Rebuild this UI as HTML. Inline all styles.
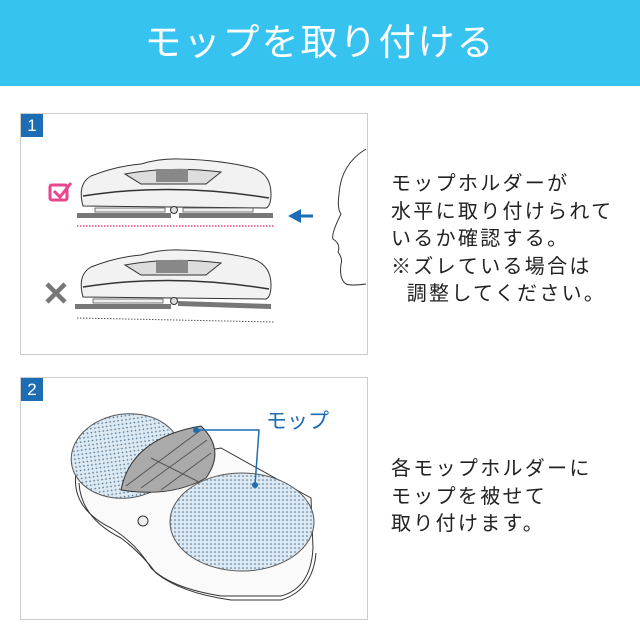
<!DOCTYPE html>
<html><head><meta charset="utf-8"><style>
body{margin:0;width:640px;height:640px;background:#fff;position:relative;overflow:hidden;font-family:"Liberation Sans","Noto Sans CJK JP",sans-serif}
.hd{position:absolute;left:0;top:0;width:640px;height:86px;background:#36c3ef;color:#fff;font-size:37px;text-align:center;line-height:86px;letter-spacing:2px}
.box{position:absolute;left:20px;width:346px;border:1px solid #ccc;background:#fff}
.num{position:absolute;left:0;top:0;width:22px;height:23px;background:#1c6db3;color:#fff;font-size:17px;text-align:center;line-height:23px}
.tx{position:absolute;left:391px;font-size:20px;letter-spacing:2.3px;line-height:27.6px;color:#222}
</style></head><body>
<div class="hd">モップを取り付ける</div>

<div class="box" style="top:113px;height:240px">
<div class="num">1</div>
<svg width="346" height="240" style="position:absolute;left:0;top:0">
 <defs>
  <g id="body">
   <path d="M62 92 Q56 70 70 62 Q95 52 120 50 Q140 44 160 45 Q200 46 232 54 Q250 60 250 80 Q250 92 245 94 Z" fill="#f2f2f2" stroke="#333"/>
   <path d="M104 60 Q150 52 200 58 L185 70 L120 70 Z" fill="#ddd" stroke="#333"/>
   <rect x="135" y="55" width="32" height="13" fill="#888"/>
   <path d="M62 82 Q150 68 248 84" fill="none" stroke="#333" stroke-width="1.5"/>
   <circle cx="153" cy="96" r="3.5" fill="#ddd" stroke="#333"/>
  </g>
 </defs>
 <use href="#body"/>
 <rect x="74" y="94" width="70" height="4" fill="#eee" stroke="#555" stroke-width="0.8"/>
 <rect x="162" y="94" width="70" height="4" fill="#eee" stroke="#555" stroke-width="0.8"/>
 <rect x="56" y="99" width="94" height="5" fill="#777"/>
 <rect x="158" y="99" width="94" height="5" fill="#777"/>
 <line x1="56" y1="112" x2="253" y2="112" stroke="#e8468c" stroke-width="1.5" stroke-dasharray="1.5 1.5"/>
 <rect x="29" y="71" width="17" height="15" fill="none" stroke="#e8468c" stroke-width="3" rx="2"/>
 <path d="M33 77 L39 83 L50 69" fill="none" stroke="#e8468c" stroke-width="3"/>
 <g transform="translate(0,91)">
  <use href="#body"/>
  <rect x="72" y="94" width="70" height="4" fill="#eee" stroke="#555" stroke-width="0.8"/>
  <rect x="54" y="99" width="96" height="5" fill="#777"/>
  <path d="M157 96 L250 99 L250 104 L157 101Z" fill="#777"/>
  <line x1="56" y1="113" x2="253" y2="117" stroke="#555" stroke-dasharray="1.5 1.5"/>
 </g>
 <path d="M26 170 L44 188 M44 170 L26 188" stroke="#777" stroke-width="4.5"/>
 <line x1="292" y1="102" x2="276" y2="102" stroke="#1c6db3" stroke-width="3"/>
 <path d="M267 102 L280 95 L280 109Z" fill="#1c6db3"/>
 <path d="M345 35 Q320 50 318 80 Q316 95 320 100 Q310 120 312 125 Q320 130 317 138 Q322 145 320 150 Q318 165 325 170 Q330 172 345 170" fill="none" stroke="#333"/>
</svg>
</div>
<div class="tx" style="top:171px">モップホルダーが<br>水平に取り付けられて<br>いるか確認する。<br>※ズレている場合は<br>&nbsp;&nbsp;調整してください。</div>

<div class="box" style="top:377px;height:241px">
<div class="num">2</div>
<svg width="346" height="241" style="position:absolute;left:0;top:0">
 <defs><pattern id="dt" width="4" height="4" patternUnits="userSpaceOnUse"><rect width="4" height="4" fill="#dce9f3"/><circle cx="2" cy="2" r="0.8" fill="#4a6d8a"/></pattern></defs>
 <path d="M55 95 Q50 130 90 150 Q115 165 130 190 Q150 210 200 218 L260 218 Q290 210 292 170 L290 120 L200 70 Z" fill="#fafafa" stroke="#333"/>
 <path d="M58 105 Q60 140 100 160 Q120 175 135 195 Q160 215 210 222 L260 222 Q292 212 295 175" fill="none" stroke="#333"/>
 <ellipse cx="105" cy="78" rx="55" ry="42" transform="rotate(-8 105 78)" fill="url(#dt)" stroke="#555"/>
 <path d="M100 112 Q110 60 180 48 Q205 72 185 100 Q150 120 100 112Z" fill="#aaa" stroke="#333"/>
 <path d="M105 108 L180 52 M120 110 L186 62 M140 112 L190 75 M130 80 L178 104" stroke="#555" stroke-width="1"/>
 <ellipse cx="221" cy="144" rx="72" ry="49" fill="url(#dt)" stroke="#555"/>
 <circle cx="122" cy="143" r="5" fill="#eee" stroke="#333"/>
 <circle cx="175" cy="52" r="3" fill="#1c6db3"/>
 <circle cx="234" cy="107" r="3" fill="#1c6db3"/>
 <path d="M175 52 L238 52 L234 107" fill="none" stroke="#1c6db3" stroke-width="1.5"/>
 <text x="245" y="50" font-size="21" fill="#1c6db3" font-family="Liberation Sans,Noto Sans CJK JP,sans-serif">モップ</text>
</svg>
</div>
<div class="tx" style="top:456px">各モップホルダーに<br>モップを被せて<br>取り付けます。</div>
</body></html>
